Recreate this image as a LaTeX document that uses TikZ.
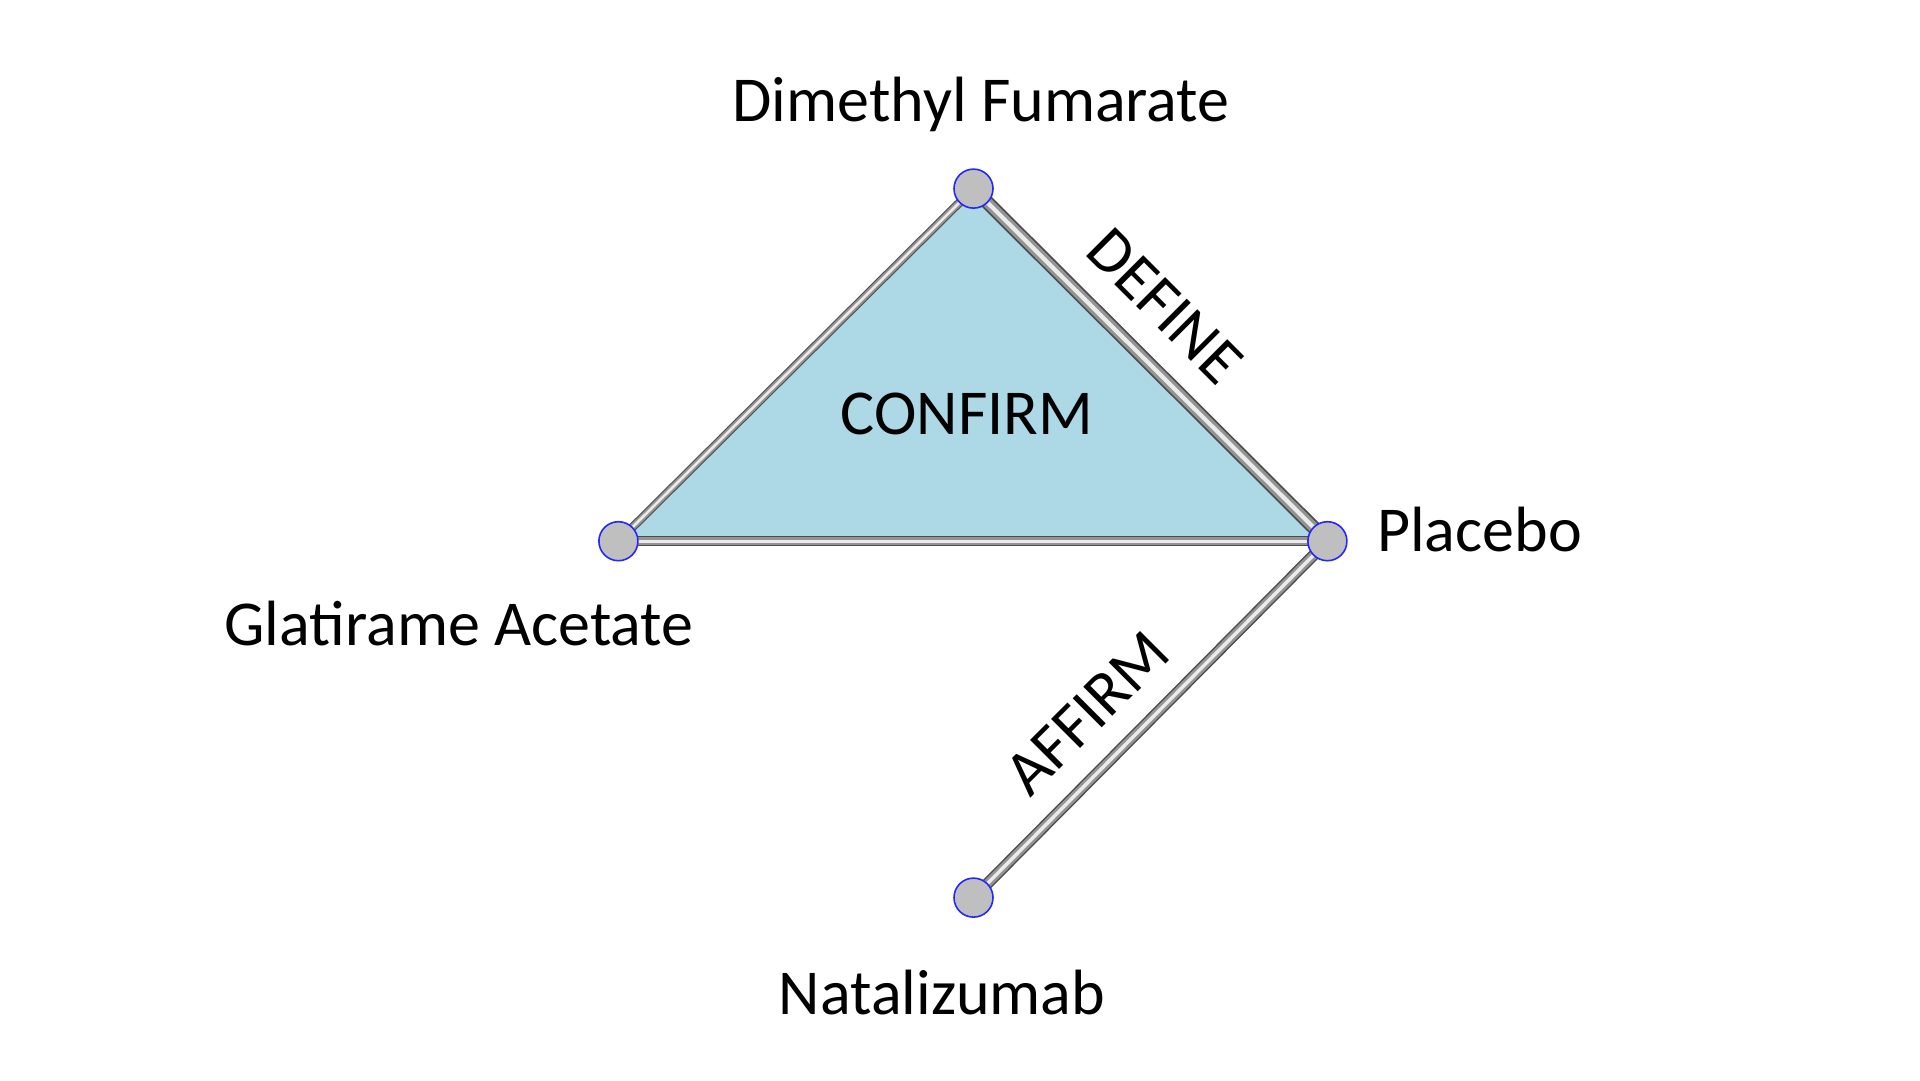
\documentclass[tikz,border=0pt]{standalone}
\usepackage{fontspec}
\setmainfont{Carlito}
\begin{document}
\begin{tikzpicture}[x=1pt,y=-1pt,
  drug/.style={circle,draw=blue!85,fill=black!25,line width=1.6pt,minimum size=39pt,inner sep=0pt},
  lab/.style={font=\fontsize{64}{76}\selectfont,inner sep=0pt,text=black},
  tubeA/.style={line width=#1,draw=black!70},
  tubeB/.style={line width=0.75*#1,draw=black!42},
  tubeC/.style={line width=0.3*#1,draw=white!92!black}]
\useasboundingbox (0,0) rectangle (1920,1080);
\coordinate (cdf) at (973.5,188.6);
\coordinate (cga) at (618.4,541.2);
\coordinate (cp) at (1327.4,541.2);
\coordinate (cn) at (973.5,897.6);
\fill[fill={rgb,255:red,173;green,216;blue,230}] (cdf) -- (cp) -- (cga) -- cycle;
\newcommand\mytube[3]{%
  \draw[tubeA=#3] (#1) -- (#2);
  \draw[tubeB=#3] (#1) -- (#2);
  \draw[tubeC=#3] (#1) -- (#2);}
\mytube{cga}{cdf}{8.5pt}
\mytube{cga}{cp}{10pt}
\mytube{cdf}{cp}{14pt}
\mytube{cp}{cn}{11.5pt}
\node[drug] (df) at (cdf) {};
\node[drug] (ga) at (cga) {};
\node[drug] (p) at (cp) {};
\node[drug] (n) at (cn) {};
\node[lab] (ldf) at (981,104) {Dimethyl Fumarate};
\node[lab,anchor=west] (lp) at (1377,530) {Placebo};
\node[lab] (lga) at (459,624) {Glatirame Acetate};
\node[lab] (ln) at (942,992) {Natalizumab};
\node[lab] (lc) at (967,414) {CONFIRM};
\node[lab,rotate=-45] (ld) at (1165,306) {DEFINE};
\node[lab,rotate=45] (la) at (1087,713) {AFFIRM};
\end{tikzpicture}
\end{document}
